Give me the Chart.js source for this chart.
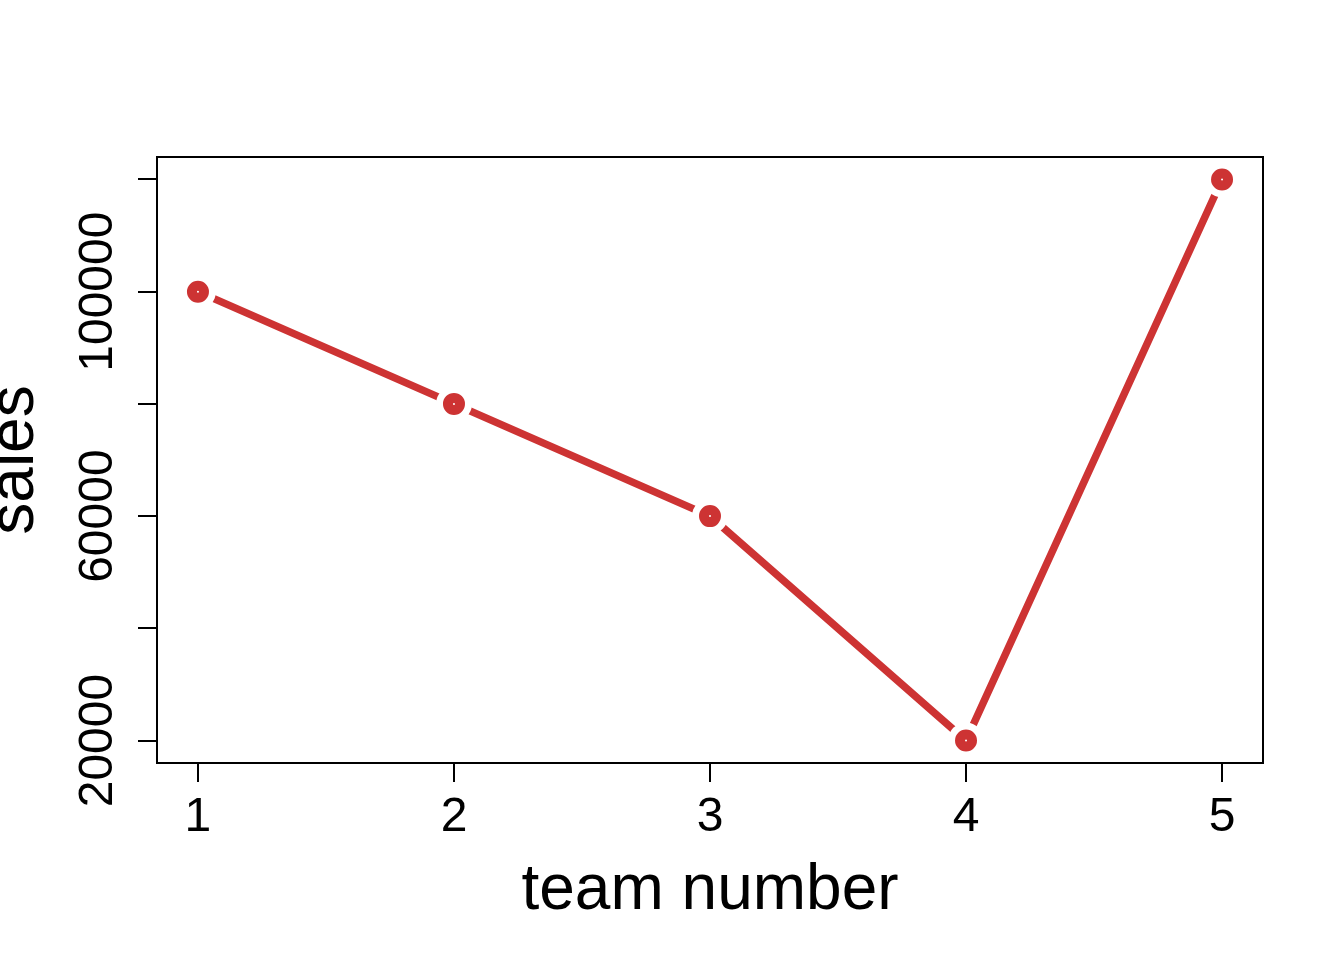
<!DOCTYPE html>
<html>
<head>
<meta charset="utf-8">
<script src="https://cdn.jsdelivr.net/npm/chart.js@4.4.1/dist/chart.umd.min.js"></script>
<style>
html, body { margin: 0; padding: 0; background: #fff; }
canvas { display: block; }
</style>
</head>
<body>
<canvas id="salesChart" width="1344" height="960"></canvas>
<script>
const teams = [1, 2, 3, 4, 5];
const sales = [100000, 80000, 60000, 20000, 120000];
const xTicks = [1, 2, 3, 4, 5];
const yTicks = [20000, 40000, 60000, 80000, 100000, 120000];
const yLabels = [20000, 60000, 100000];

const red = '#CD3333';
const fam = '"Liberation Sans", Arial, sans-serif';
const pts = teams.map((t, i) => ({ x: t, y: sales[i] }));

// box around plot + rotated y tick labels (R style)
const rFrame = {
  id: 'rFrame',
  afterDraw(chart) {
    const { ctx, chartArea: a } = chart;
    const y = chart.scales.y;
    ctx.save();
    ctx.strokeStyle = '#000';
    ctx.lineWidth = 2;
    ctx.strokeRect(a.left, a.top, a.right - a.left, a.bottom - a.top);
    ctx.fillStyle = '#000';
    ctx.font = '48px ' + fam;
    ctx.textAlign = 'center';
    ctx.textBaseline = 'alphabetic';
    yLabels.forEach(v => {
      ctx.save();
      ctx.translate(112, y.getPixelForValue(v));
      ctx.rotate(-Math.PI / 2);
      ctx.fillText(String(v), 0, 0);
      ctx.restore();
    });
    ctx.restore();
  }
};

new Chart(document.getElementById('salesChart').getContext('2d'), {
  type: 'line',
  data: {
    datasets: [
      { // markers
        data: pts, order: 0, showLine: false,
        pointRadius: 6, pointBorderWidth: 10,
        pointBorderColor: red, pointBackgroundColor: '#fff'
      },
      { // white gaps around points (type = "b")
        data: pts, order: 1, showLine: false,
        pointRadius: 18, pointBorderWidth: 0,
        pointBackgroundColor: '#fff', pointBorderColor: '#fff'
      },
      { // the line
        data: pts, order: 2,
        borderColor: red, borderWidth: 7.5, tension: 0,
        borderCapStyle: 'round', borderJoinStyle: 'round',
        pointRadius: 0
      }
    ]
  },
  options: {
    responsive: false,
    animation: false,
    devicePixelRatio: 1,
    layout: { padding: { top: 157, right: 81, left: 0, bottom: 0 } },
    plugins: { legend: { display: false }, tooltip: { enabled: false } },
    scales: {
      x: {
        type: 'linear', min: 0.84, max: 5.16,
        afterBuildTicks: s => { s.ticks = xTicks.map(v => ({ value: v })); },
        afterFit: s => { s.height = 197; },
        grid: { drawOnChartArea: false, tickLength: 19, color: '#000', lineWidth: 2 },
        border: { display: true, color: '#000', width: 2 },
        ticks: { color: '#000', font: { family: fam, size: 48 }, padding: 7, maxRotation: 0 },
        title: {
          display: true, text: 'team number', color: '#000',
          font: { family: fam, size: 64, lineHeight: 1.2 },
          padding: { top: 0, bottom: 30 }
        }
      },
      y: {
        type: 'linear', min: 16000, max: 124000,
        afterBuildTicks: s => { s.ticks = yTicks.map(v => ({ value: v })); },
        afterFit: s => { s.width = 157; },
        grid: { drawOnChartArea: false, tickLength: 19, color: '#000', lineWidth: 2 },
        border: { display: true, color: '#000', width: 2 },
        ticks: { display: false },
        title: {
          display: true, text: 'sales', color: '#000',
          font: { family: fam, size: 64, lineHeight: '30px' },
          padding: 0
        }
      }
    }
  },
  plugins: [rFrame]
});
</script>
</body>
</html>
